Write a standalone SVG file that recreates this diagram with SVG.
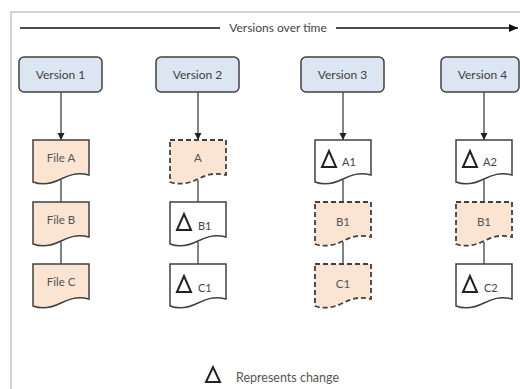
<svg xmlns="http://www.w3.org/2000/svg" xmlns:xlink="http://www.w3.org/1999/xlink" width="520" height="389" viewBox="0 0 520 389">
<style>
.frame{fill:none;stroke:#d4d4d4;stroke-width:2}
.ver{fill:#dce6f2;stroke:#404040;stroke-width:1.5}
.vt{font-family:Lato,"Liberation Sans",sans-serif;font-size:12px;fill:#404040;text-anchor:middle}
.ft{font-family:Lato,"Liberation Sans",sans-serif;font-size:11.5px;fill:#555;text-anchor:middle}
.dt{font-family:Lato,"Liberation Sans",sans-serif;font-size:11px;fill:#444}
.solidp{fill:#fce4d3;stroke:#404040;stroke-width:1.5}
.dashp{fill:#fce4d3;stroke:#404040;stroke-width:1.8;stroke-dasharray:5 3}
.solidw{fill:#fff;stroke:#404040;stroke-width:1.5}
.tri{fill:none;stroke:#222;stroke-width:2;stroke-linejoin:miter}
.conn{fill:none;stroke:#404040;stroke-width:1.3}
.time{fill:none;stroke:#111;stroke-width:1.5}
.tt{font-family:Lato,"Liberation Sans",sans-serif;font-size:12px;fill:#444;text-anchor:middle}
.lt{font-family:Lato,"Liberation Sans",sans-serif;font-size:12.5px;fill:#555}
</style>
<defs>
<path id="doc" d="M0,0 H56 V35 C44,32 36,35 28,39 C18,44 8,45 0,42 Z"/>
<marker id="ah" markerWidth="8" markerHeight="8" refX="7" refY="4" orient="auto" markerUnits="userSpaceOnUse">
<path d="M0,0.5 L7,4 L0,7.5 Z" fill="#222"/>
</marker>
<marker id="ah2" markerWidth="10" markerHeight="10" refX="9" refY="5" orient="auto" markerUnits="userSpaceOnUse">
<path d="M0,1 L9,5 L0,9 Z" fill="#111"/>
</marker>
</defs>
<rect width="520" height="389" fill="#fff"/>
<rect class="frame" x="11" y="12" width="530" height="400"/>

<g id="connectors">
<path class="time" d="M20,28 H220"/>
<path class="time" d="M336,28 H518" marker-end="url(#ah2)"/>
<path class="conn" d="M61,92 V140" marker-end="url(#ah)"/>
<path class="conn" d="M61,180 V202"/>
<path class="conn" d="M61,242 V264"/>
<path class="conn" d="M198,92 V140" marker-end="url(#ah)"/>
<path class="conn" d="M198,180 V202"/>
<path class="conn" d="M198,242 V264"/>
<path class="conn" d="M343,92 V140" marker-end="url(#ah)"/>
<path class="conn" d="M343,180 V202"/>
<path class="conn" d="M343,242 V264"/>
<path class="conn" d="M484,92 V140" marker-end="url(#ah)"/>
<path class="conn" d="M484,180 V202"/>
<path class="conn" d="M484,242 V264"/>
</g>

<text id="timeline-label" class="tt" x="278" y="32">Versions over time</text>

<g id="version1"><rect class="ver" x="19" y="57" width="83" height="35" rx="5"/><text class="vt" x="60.5" y="79">Version 1</text></g>
<g id="version2"><rect class="ver" x="156" y="57" width="83" height="35" rx="5"/><text class="vt" x="197.5" y="79">Version 2</text></g>
<g id="version3"><rect class="ver" x="301" y="57" width="83" height="35" rx="5"/><text class="vt" x="342.5" y="79">Version 3</text></g>
<g id="version4"><rect class="ver" x="441" y="57" width="78" height="35" rx="5"/><text class="vt" x="482.5" y="79">Version 4</text></g>

<g id="v1-fileA" transform="translate(33,140)"><use xlink:href="#doc" class="solidp"/><text class="ft" x="28" y="22">File A</text></g>
<g id="v1-fileB" transform="translate(33,202)"><use xlink:href="#doc" class="solidp"/><text class="ft" x="28" y="22">File B</text></g>
<g id="v1-fileC" transform="translate(33,264)"><use xlink:href="#doc" class="solidp"/><text class="ft" x="28" y="22">File C</text></g>

<g id="v2-A" transform="translate(170,140)"><use xlink:href="#doc" class="dashp"/><text class="ft" x="28" y="22">A</text></g>
<g id="v2-B1" transform="translate(170,202)"><use xlink:href="#doc" class="solidw"/><polygon class="tri" points="7,28 14,12 21,28"/><text class="dt" x="28" y="28">B1</text></g>
<g id="v2-C1" transform="translate(170,264)"><use xlink:href="#doc" class="solidw"/><polygon class="tri" points="7,28 14,12 21,28"/><text class="dt" x="28" y="28">C1</text></g>

<g id="v3-A1" transform="translate(315,140)"><use xlink:href="#doc" class="solidw"/><polygon class="tri" points="7,27 14,11 21,27"/><text class="dt" x="27" y="26">A1</text></g>
<g id="v3-B1" transform="translate(315,202)"><use xlink:href="#doc" class="dashp"/><text class="ft" x="28" y="24">B1</text></g>
<g id="v3-C1" transform="translate(315,264)"><use xlink:href="#doc" class="dashp"/><text class="ft" x="28" y="24">C1</text></g>

<g id="v4-A2" transform="translate(456,140)"><use xlink:href="#doc" class="solidw"/><polygon class="tri" points="7,27 14,11 21,27"/><text class="dt" x="27" y="26">A2</text></g>
<g id="v4-B1" transform="translate(456,202)"><use xlink:href="#doc" class="dashp"/><text class="ft" x="28" y="24">B1</text></g>
<g id="v4-C2" transform="translate(456,264)"><use xlink:href="#doc" class="solidw"/><polygon class="tri" points="7,28 14,12 21,28"/><text class="dt" x="28" y="28">C2</text></g>

<g id="legend"><polygon class="tri" points="206,382 213,367 220,382"/><text class="lt" x="236" y="382">Represents change</text></g>
</svg>
